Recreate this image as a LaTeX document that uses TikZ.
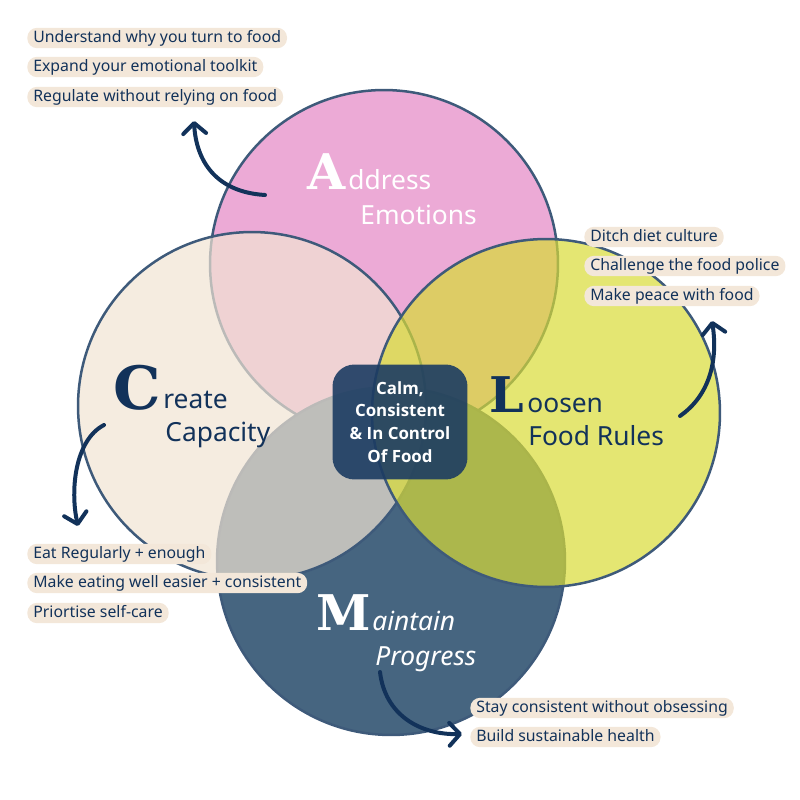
\documentclass[tikz,border=0pt]{standalone}
\usepackage{fontspec}
\setmainfont{Noto Sans}
\newfontfamily\centrofont{Open Sans}
\newfontfamily\iniziale{DejaVu Serif}
\usetikzlibrary{arrows.meta}

\definecolor{rosa}{RGB}{236,170,214}
\definecolor{crema}{RGB}{241,228,211}
\definecolor{giallo}{RGB}{216,219,54}
\definecolor{blu}{RGB}{70,101,128}
\definecolor{bordo}{RGB}{62,90,122}
\definecolor{scuro}{RGB}{18,50,90}
\definecolor{pill}{RGB}{243,231,217}
\definecolor{riquadro}{RGB}{28,60,98}

\tikzset{
	cerchio/.style={draw=bordo, line width=0.05cm},
	voce/.style={fill=pill, text=scuro, rounded corners=5.5pt, anchor=west, inner xsep=3.4pt, inner ysep=1.2pt, text height=7pt, text depth=2.2pt, font=\fontsize{9}{11}\selectfont},
	freccia/.style={color=scuro, line width=0.08cm, line cap=round, -{Straight Barb[length=6pt,width=13pt,round]}},
	iniz/.style={font=\iniziale\bfseries\fontsize{28}{28}\selectfont, anchor=base east, inner sep=0pt},
	titolo/.style={font=\fontsize{15}{18}\selectfont, anchor=base west, inner sep=0pt}
}

\begin{document}
\begin{tikzpicture}[x=0.02cm, y=-0.02cm]
	\useasboundingbox (0,0) rectangle (800,800);
	
	% centri dei cerchi
	\coordinate (A) at (384,264);
	\coordinate (C) at (252,406);
	\coordinate (L) at (546,413);
	\coordinate (M) at (391,561);
	
	% cerchi
	\filldraw[cerchio, fill=rosa] (A) circle[radius=3.48cm];
	\filldraw[cerchio, fill=blu] (M) circle[radius=3.48cm];
	\filldraw[cerchio, fill=crema, fill opacity=0.7] (C) circle[radius=3.48cm];
	\filldraw[cerchio, fill=giallo, fill opacity=0.7] (L) circle[radius=3.48cm];
	
	% riquadro centrale
	\node[fill=riquadro, fill opacity=0.9, text opacity=1, text=white, rounded corners=0.44cm, minimum width=2.7cm, minimum height=2.3cm, align=center, font=\centrofont\bfseries\fontsize{9.6}{13}\selectfont] (centro) at (400,422) {Calm,\\Consistent\\\& In Control\\Of Food};
	
	% titoli
	\node[iniz, text=white] (iA) at (346,190) {A};
	\node[titolo, text=white] (tA) at (348,190) {ddress};
	\node[titolo, text=white] (tA2) at (360,225) {Emotions};
	
	\node[iniz, text=scuro, font=\iniziale\bfseries\fontsize{34}{34}\selectfont] (iC) at (161,409) {C};
	\node[titolo, text=scuro] (tC) at (163,408) {reate};
	\node[titolo, text=scuro] (tC2) at (165,441) {Capacity};
	
	\node[iniz, text=scuro] (iL) at (524,412) {L};
	\node[titolo, text=scuro] (tL) at (527,412) {oosen};
	\node[titolo, text=scuro] (tL2) at (528,445) {Food Rules};
	
	\node[iniz, text=white] (iM) at (371,630) {M};
	\node[titolo, text=white, font=\itshape\fontsize{15}{18}\selectfont] (tM) at (372,630) {aintain};
	\node[titolo, text=white, font=\itshape\fontsize{15}{18}\selectfont] (tM2) at (375,665) {Progress};
	
	% elenchi
	\node[voce] (a1) at (27,38) {Understand why you turn to food};
	\node[voce] (a2) at (27,67) {Expand your emotional toolkit};
	\node[voce] (a3) at (27,97) {Regulate without relying on food};
	
	\node[voce] (l1) at (584,237) {Ditch diet culture};
	\node[voce] (l2) at (584,266) {Challenge the food police};
	\node[voce] (l3) at (584,296) {Make peace with food};
	
	\node[voce] (c1) at (27,554) {Eat Regularly + enough};
	\node[voce] (c2) at (27,583) {Make eating well easier + consistent};
	\node[voce] (c3) at (27,613) {Priortise self-care};
	
	\node[voce] (m1) at (470,708) {Stay consistent without obsessing};
	\node[voce] (m2) at (470,737) {Build sustainable health};
	
	% frecce
	\coordinate (fA) at (265,195);
	\coordinate (fA2) at (194,121);
	\coordinate (fC) at (104,425);
	\coordinate (fC2) at (78,526);
	\coordinate (fL) at (680,416);
	\coordinate (fL2) at (712,321);
	\coordinate (fM) at (380,672);
	\coordinate (fM2) at (462,734);
	\draw[freccia] (fA) .. controls (215,192) and (196,160) .. (fA2);
	\draw[freccia] (fC) .. controls (75,440) and (70,490) .. (fC2);
	\draw[freccia] (fL) .. controls (710,395) and (718,360) .. (fL2);
	\draw[freccia] (fM) .. controls (385,715) and (420,735) .. (fM2);
\end{tikzpicture}
\end{document}
